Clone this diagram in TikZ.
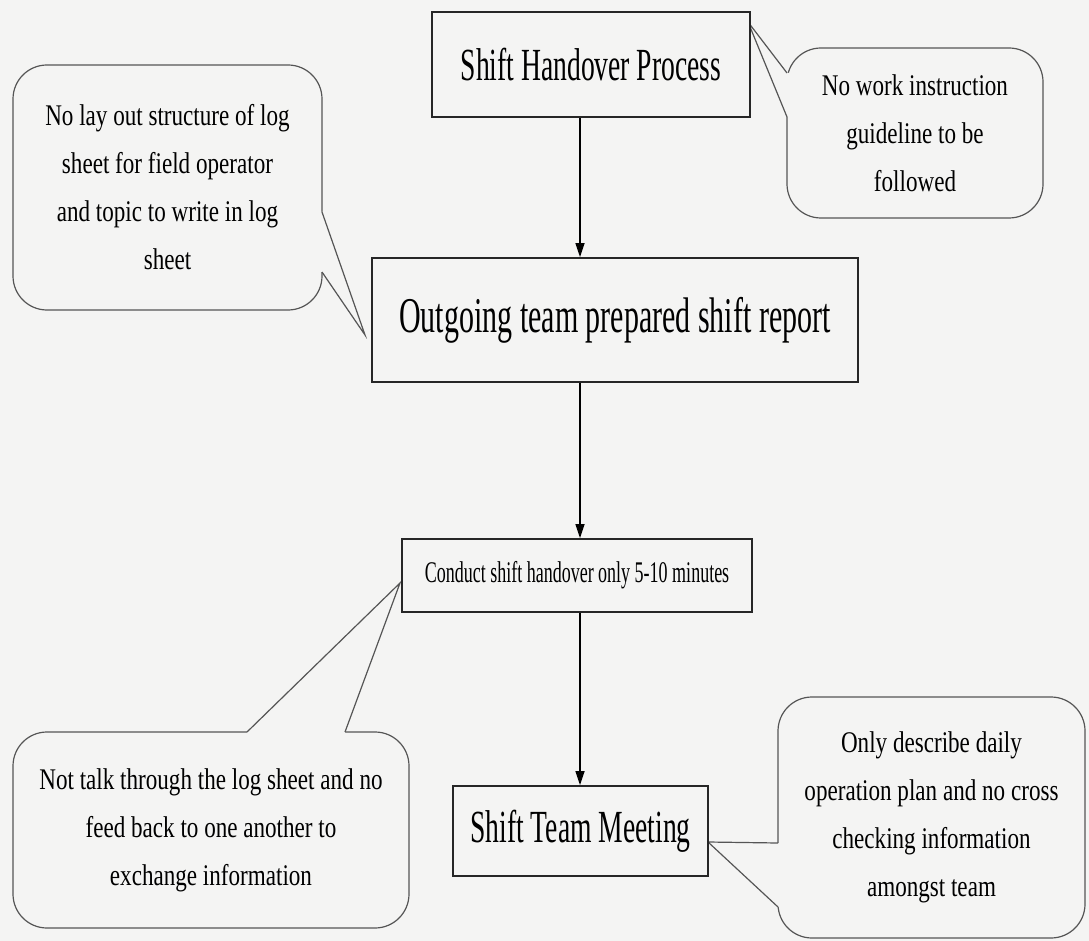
\documentclass[tikz,border=0pt]{standalone}
\usepackage{fontspec}
\setmainfont{Liberation Serif}
\newfontfamily\boxfont[FakeStretch=0.6]{Liberation Serif}
\newfontfamily\notefont[FakeStretch=0.77]{Liberation Serif}
\usetikzlibrary{arrows.meta,positioning}
\definecolor{paper}{RGB}{244,244,243}
\definecolor{noteline}{RGB}{85,85,85}
\tikzset{
  stepbox/.style={draw=black!85, line width=1.8pt, fill=paper, inner sep=0pt, font=\boxfont},
  note/.style={draw=noteline, line width=1.2pt, fill=paper, rounded corners=34pt, inner sep=0pt,
    align=center, font={\notefont\fontsize{30}{48}\selectfont}},
  tail/.style={draw=noteline, line width=1.2pt, line join=miter},
  flow/.style={-{Triangle[length=14pt,width=9pt]}, line width=1.5pt}
}

\begin{document}
\begin{tikzpicture}[x = 1pt, y = -1pt]
\fill[paper] (0,0) rectangle (1089,941);
% callouts
\node[note, minimum width=309pt, minimum height=245pt] (layout) at (167.5,187.5)
  {No lay out structure of log\\sheet for field operator\\and topic to write in log\\sheet};
\node[note, minimum width=256pt, minimum height=170pt] (guide) at (915,133)
  {No work instruction\\guideline to be\\followed};
\node[note, minimum width=396pt, minimum height=196pt] (talk) at (211,830)
  {Not talk through the log sheet and no\\feed back to one another to\\exchange information};
\node[note, minimum width=307pt, minimum height=241pt] (daily) at (931.5,817.5)
  {Only describe daily\\operation plan and no cross\\checking information\\amongst team};
\coordinate (t1) at (365,335);
\coordinate (t2) at (748,22);
\coordinate (t3) at (400,583);
\coordinate (t4) at (708,842);
\fill[paper] (318,212) -- (324,212) -- (t1) -- (324,272) -- (318,272) -- cycle;
\draw[tail] (322,212) -- (t1) -- (322,272);
\fill[paper] (791,73) -- (785,73) -- (t2) -- (785,117) -- (791,117) -- cycle;
\draw[tail] (787,73) -- (t2) -- (787,117);
\fill[paper] (247,736) -- (247,730) -- (t3) -- (345,730) -- (345,736) -- cycle;
\draw[tail] (247,732) -- (t3) -- (345,732);
\fill[paper] (782,843) -- (776,843) -- (t4) -- (776,907) -- (782,907) -- cycle;
\draw[tail] (778,843) -- (t4) -- (778,907);
% process steps
\node[stepbox, minimum width=318pt, minimum height=105pt] (handover) at (591,64.5)
  {\fontsize{46}{50}\selectfont Shift Handover Process};
\node[stepbox, minimum width=486pt, minimum height=124pt] (outgoing) at (615,320)
  {\fontsize{50}{54}\selectfont Outgoing team prepared shift report};
\node[stepbox, minimum width=350pt, minimum height=73pt] (conduct) at (577,575.5)
  {\fontsize{30}{34}\selectfont Conduct shift handover only 5-10 minutes};
\node[stepbox, minimum width=255pt, minimum height=90pt] (meeting) at (580.5,831)
  {\fontsize{46}{50}\selectfont Shift Team Meeting};
\coordinate (spine) at (580,0);
\draw[flow] (handover.south -| spine) -- (outgoing.north -| spine);
\draw[flow] (outgoing.south -| spine) -- (conduct.north -| spine);
\draw[flow] (conduct.south -| spine) -- (meeting.north -| spine);
\end{tikzpicture}
\end{document}
